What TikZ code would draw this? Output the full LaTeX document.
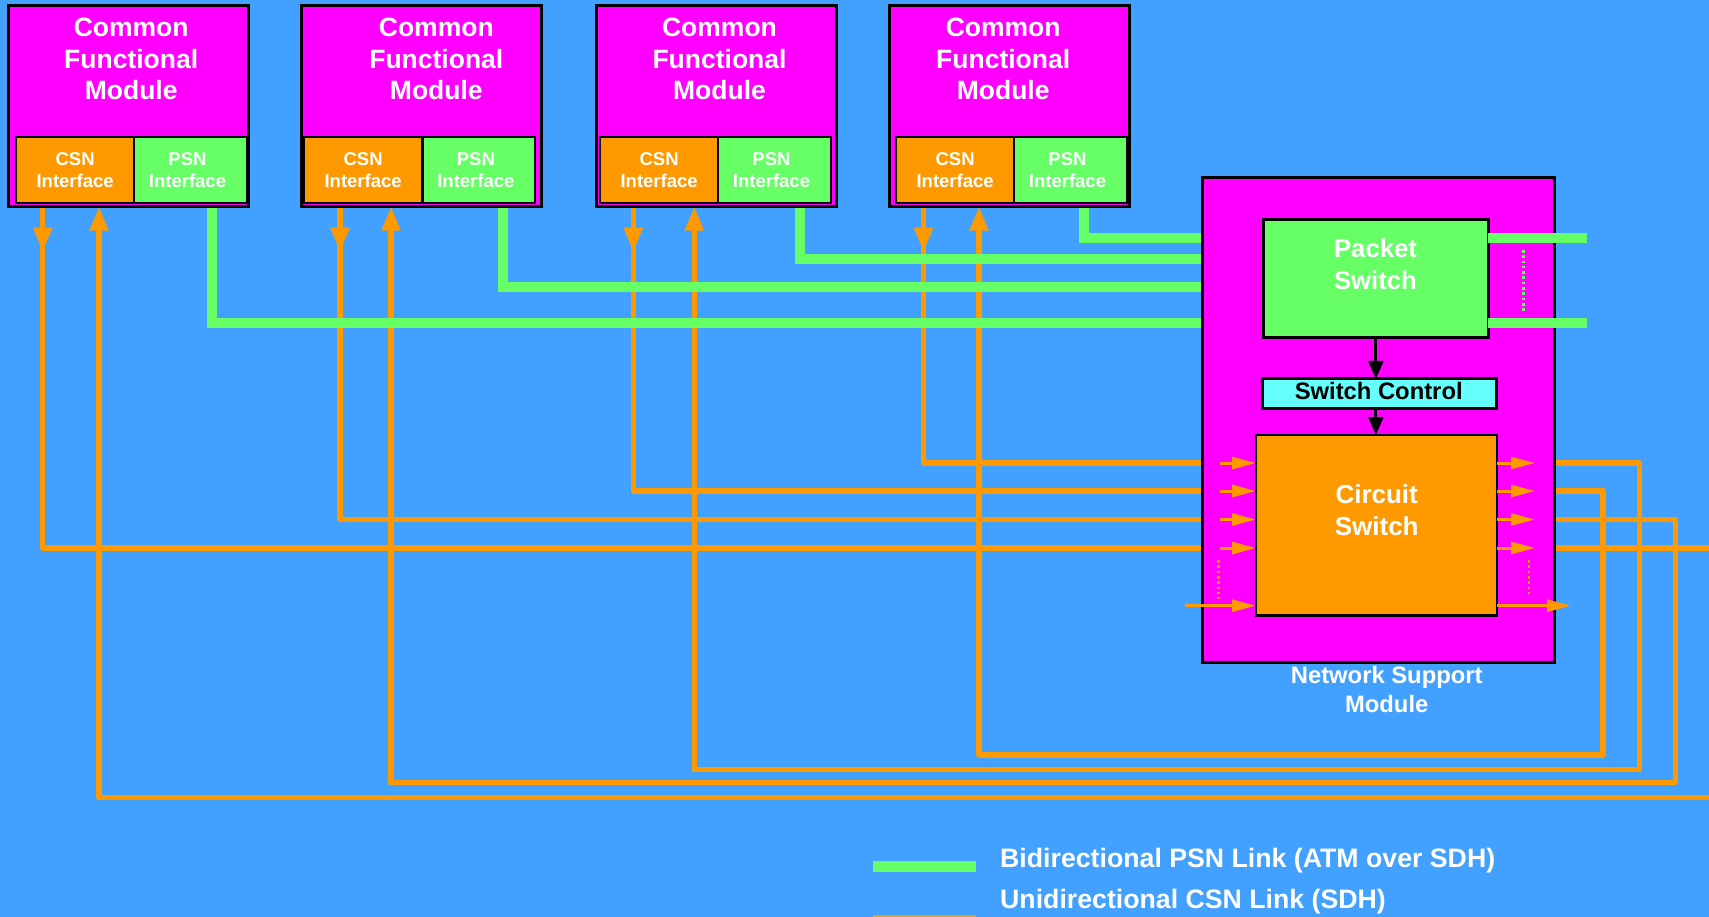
\documentclass[tikz,border=0pt]{standalone}
\usepackage{fontspec}
\setmainfont{Liberation Sans}
\usetikzlibrary{arrows.meta}

\definecolor{bgblue}{RGB}{66,160,255}
\definecolor{magentabox}{RGB}{255,0,255}
\definecolor{csnorange}{RGB}{255,153,0}
\definecolor{psngreen}{RGB}{102,255,102}
\definecolor{ctrlcyan}{RGB}{102,255,255}

\tikzset{
  plainbox/.style={draw=black,anchor=north west,inner sep=0pt,outer sep=0pt},
  cfmbox/.style={plainbox,line width=3pt,fill=magentabox,minimum width=240pt,minimum height=201.4pt},
  ifbox/.style={plainbox,line width=2pt,minimum height=65.2pt,text=white,align=center,
    font=\bfseries\fontsize{18.5}{22.7}\selectfont},
  csnif/.style={ifbox,fill=csnorange,minimum width=118.3pt},
  psnif/.style={ifbox,fill=psngreen,minimum width=112.4pt},
  cfmtitle/.style={text=white,align=center,inner sep=0pt,anchor=north,
    font=\bfseries\fontsize{26.5}{31.8}\selectfont},
  csnlink/.style={draw=csnorange,line width=5.3pt,line join=round},
  psnlink/.style={draw=psngreen,line width=10pt,line join=miter},
  cfmtip/.style={-{Triangle[length=24pt,width=18pt]}},
  swarrow/.style={draw=csnorange,line width=3pt,-{Triangle[length=24pt,width=12pt]}},
  ctrlarrow/.style={draw=black,line width=3pt,-{Triangle[length=18pt,width=15pt]}},
  dotline/.style={line width=2.6pt,dash pattern=on 2.6pt off 2.7pt},
  legendtext/.style={text=white,inner sep=0pt,anchor=base west,font=\bfseries\fontsize{26.7}{31}\selectfont}
}
% PSN label, set slightly left of the box centre
\newcommand{\psnlabel}{PSN\kern6pt\\Interface\kern6pt}

\begin{document}
\begin{tikzpicture}[x=1pt,y=-1pt]
\useasboundingbox (0,0) rectangle (1709,917);
\fill[bgblue] (0,0) rectangle (1709,917);

% ports on the lower edge of each common functional module
\coordinate (c1dn) at (42.7,206.7);  \coordinate (c1up) at (99,206.7);    \coordinate (c1ps) at (211.7,206.7);
\coordinate (c2dn) at (340,206.7);   \coordinate (c2up) at (391,206.7);   \coordinate (c2ps) at (503.3,206.7);
\coordinate (c3dn) at (633.3,206.7); \coordinate (c3up) at (694.3,206.7); \coordinate (c3ps) at (799.5,206.7);
\coordinate (c4dn) at (923.5,206.7); \coordinate (c4up) at (979,206.7);   \coordinate (c4ps) at (1084,206.7);

% ports on the network support module
\coordinate (in1) at (1202,463);   \coordinate (in2) at (1202,491);
\coordinate (in3) at (1202,519.5); \coordinate (in4) at (1202,548);
\coordinate (out1) at (1555,463);   \coordinate (out2) at (1555,491);
\coordinate (out3) at (1555,519.5); \coordinate (out4) at (1555,548);
\coordinate (gin1) at (1202,237.7); \coordinate (gin2) at (1202,259.5);
\coordinate (gin3) at (1202,287);   \coordinate (gin4) at (1202,323.3);
\coordinate (far4) at (1715,548);
\coordinate (far5) at (1715,797.7);

% CSN links into the circuit switch
\draw[csnlink] (c4dn) |- (in1);
\draw[csnlink] (c3dn) |- (in2);
\draw[csnlink] (c2dn) |- (in3);
\draw[csnlink] (c1dn) |- (in4);
\draw[csnlink,cfmtip] (c1dn) -- (42.7,251.7);
\draw[csnlink,cfmtip] (c2dn) -- (340,251.7);
\draw[csnlink,cfmtip] (c3dn) -- (633.3,251.7);
\draw[csnlink,cfmtip] (c4dn) -- (923.5,251.7);

% CSN links back from the circuit switch
\draw[csnlink,cfmtip] (out1) -| (1639.5,769.5) -| (c3up);
\draw[csnlink,cfmtip] (out2) -| (1603,755) -| (c4up);
\draw[csnlink,cfmtip] (out3) -| (1675.5,782.7) -| (c2up);
\draw[csnlink] (out4) -- (far4);
\draw[csnlink,cfmtip] (far5) -| (c1up);

% PSN links into the packet switch
\draw[psnlink] (c4ps) |- (gin1);
\draw[psnlink] (c3ps) |- (gin2);
\draw[psnlink] (c2ps) |- (gin3);
\draw[psnlink] (c1ps) |- (gin4);

% common functional modules
\node[cfmbox] (cfm1) at (8.3,5.3) {};
\node[cfmbox] (cfm2) at (301.7,5.3) {};
\node[cfmbox] (cfm3) at (596,5.3) {};
\node[cfmbox] (cfm4) at (889.5,5.3) {};
\node[cfmtitle] (cfm1t) at (131.2,17.6) {Common\\Functional\\Module};
\node[cfmtitle] (cfm2t) at (436.3,17.6) {Common\\Functional\\Module};
\node[cfmtitle] (cfm3t) at (719.5,17.6) {Common\\Functional\\Module};
\node[cfmtitle] (cfm4t) at (1003.2,17.6) {Common\\Functional\\Module};
\node[csnif] (csn1) at (16,137.5) {CSN\\Interface};
\node[psnif] (psn1) at (134.3,137.5) {\psnlabel};
\node[csnif] (csn2) at (304,137.5) {CSN\\Interface};
\node[psnif] (psn2) at (422.7,137.5) {\psnlabel};
\node[csnif] (csn3) at (600,137.5) {CSN\\Interface};
\node[psnif] (psn3) at (718.3,137.5) {\psnlabel};
\node[csnif] (csn4) at (896,137.5) {CSN\\Interface};
\node[psnif] (psn4) at (1014.3,137.5) {\psnlabel};

% network support module
\node[plainbox,line width=3pt,fill=magentabox,minimum width=352pt,minimum height=485pt] (nsm) at (1202.3,177.3) {};
\node[plainbox,line width=3pt,fill=psngreen,minimum width=224.3pt,minimum height=117.3pt] (ps) at (1263.7,220) {};
\coordinate (gout1) at (1586.5,238);
\coordinate (gout2) at (1586.5,323.3);
\draw[psnlink] (ps.east |- gout1) -- (gout1);
\draw[psnlink] (ps.east |- gout2) -- (gout2);
\draw[dotline,draw=psngreen] (1523.5,250) -- (1523.5,312);
\node[plainbox,line width=3pt,fill=ctrlcyan,minimum width=233.3pt,minimum height=29pt] (sc) at (1262.7,379) {};
\node[plainbox,line width=2.5pt,fill=csnorange,minimum width=241pt,minimum height=180.7pt] (cs) at (1256,435) {};

\node[cfmtitle,font=\bfseries\fontsize{25.7}{31.7}\selectfont] (pst) at (1375.5,238.6) {Packet\\Switch};
\node[inner sep=0pt,anchor=base,text=black,font=\bfseries\fontsize{23.8}{28}\selectfont] (sct) at (1378.7,399.3) {Switch Control};
\node[cfmtitle,font=\bfseries\fontsize{26}{32.7}\selectfont] (cst) at (1376.7,484.2) {Circuit\\Switch};
\node[cfmtitle,font=\bfseries\fontsize{23.8}{28.4}\selectfont] (nsmt) at (1386.7,666.3) {Network Support\\Module};

% control path
\draw[ctrlarrow] (ps.south) -- (ps.south |- sc.north);
\draw[ctrlarrow] (sc.south -| ps.south) -- (cs.north -| ps.south);

% circuit switch inputs and outputs
\foreach \yy in {463,491,519.5,548} {
  \draw[swarrow] (1220,\yy) -- (cs.west |- 0,\yy);
  \draw[swarrow] (cs.east |- 0,\yy) -- (1535,\yy);
}
\draw[swarrow] (1185,605.7) -- (cs.west |- 0,605.7);
\draw[swarrow] (cs.east |- 0,605.7) -- (1571,605.7);
\draw[dotline,draw=csnorange] (1218.3,560) -- (1218.3,599.3);
\draw[dotline,draw=csnorange] (1529,560) -- (1529,597);

% legend
\coordinate (lg1a) at (872.5,866);   \coordinate (lg1b) at (975.7,866);
\coordinate (lg2a) at (872.5,918);   \coordinate (lg2b) at (975.7,918);
\draw[psnlink,line width=11pt] (lg1a) -- (lg1b);
\draw[csnlink] (lg2a) -- (lg2b);
\node[legendtext] (lgt1) at (1000,867.7) {Bidirectional PSN Link (ATM over SDH)};
\node[legendtext] (lgt2) at (1000,908.3) {Unidirectional CSN Link (SDH)};
\end{tikzpicture}
\end{document}
